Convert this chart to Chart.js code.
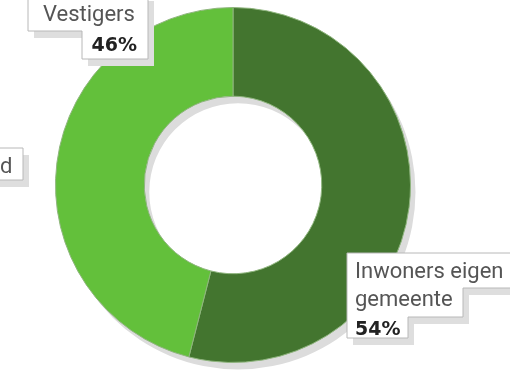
<!DOCTYPE html>
<html>
<head>
<meta charset="utf-8">
<script src="https://cdn.jsdelivr.net/npm/chart.js@4"></script>
<style>
  body { margin: 0; background: #fff; }
  canvas { display: block; }
</style>
</head>
<body>
<canvas id="herkomstChart" width="510" height="380"></canvas>
<script>
const categories = ['Inwoners eigen gemeente', 'Vestigers'];
const shares = [54, 46];
const colors = ['#43752f', '#63c03b'];

// label boxes: outline polygon + text lines (last line is the bold percentage)
const labelBoxes = [
    {
        poly: [[347, 253], [520, 253], [520, 288], [463, 288], [463, 317], [408, 317], [408, 338], [347, 338]],
        lines: [['Inwoners eigen', 355, 278], ['gemeente', 355, 306]],
        pct: [0, 355, 335, 'left']
    },
    {
        poly: [[28, -6], [148, -6], [148, 59], [82, 59], [82, 31], [28, 31]],
        lines: [['Vestigers', 43, 21]],
        pct: [1, 137, 51, 'right']
    },
    {
        poly: [[-10, 148], [23, 148], [23, 180], [-10, 180]],
        lines: [['d', 0, 173]],
        pct: null
    }
];

const donutShadow = {
    id: 'donutShadow',
    beforeDatasetsDraw(chart) {
        const arc = chart.getDatasetMeta(0).data[0];
        const ctx = chart.ctx;
        ctx.save();
        ctx.fillStyle = '#dcdcdc';
        ctx.beginPath();
        ctx.arc(arc.x + 5, arc.y + 7, arc.outerRadius, 0, Math.PI * 2);
        ctx.arc(arc.x + 5, arc.y + 7, arc.innerRadius, 0, Math.PI * 2, true);
        ctx.fill('evenodd');
        ctx.restore();
    }
};

const boxLabels = {
    id: 'boxLabels',
    afterDraw(chart) {
        const ctx = chart.ctx;
        labelBoxes.forEach(b => {
            ctx.save();
            const path = (dx, dy) => {
                ctx.beginPath();
                b.poly.forEach((p, i) => i ? ctx.lineTo(p[0] + dx, p[1] + dy) : ctx.moveTo(p[0] + dx, p[1] + dy));
                ctx.closePath();
            };
            path(6, 7);
            ctx.fillStyle = '#dedede';
            ctx.fill();
            path(0, 0);
            ctx.fillStyle = '#fff';
            ctx.fill();
            ctx.strokeStyle = '#b8b8b8';
            ctx.lineWidth = 1;
            ctx.stroke();

            ctx.fillStyle = '#555';
            ctx.font = '22px Roboto';
            ctx.textAlign = 'left';
            ctx.textBaseline = 'alphabetic';
            b.lines.forEach(l => ctx.fillText(l[0], l[1], l[2]));
            if (b.pct) {
                ctx.fillStyle = '#222';
                ctx.font = 'bold 19px "DejaVu Sans"';
                ctx.textAlign = b.pct[3];
                ctx.fillText(shares[b.pct[0]] + '%', b.pct[1], b.pct[2]);
            }
            ctx.restore();
        });
    }
};

new Chart(document.getElementById('herkomstChart'), {
    type: 'doughnut',
    data: {
        labels: categories,
        datasets: [{
            data: shares,
            backgroundColor: colors,
            borderColor: '#8fb57e',
            borderWidth: 1
        }]
    },
    options: {
        responsive: false,
        animation: false,
        cutout: '50%',
        layout: { padding: { left: 55, right: 99, top: 7, bottom: 17 } },
        plugins: {
            legend: { display: false },
            tooltip: { enabled: false }
        }
    },
    plugins: [donutShadow, boxLabels]
});
</script>
</body>
</html>
